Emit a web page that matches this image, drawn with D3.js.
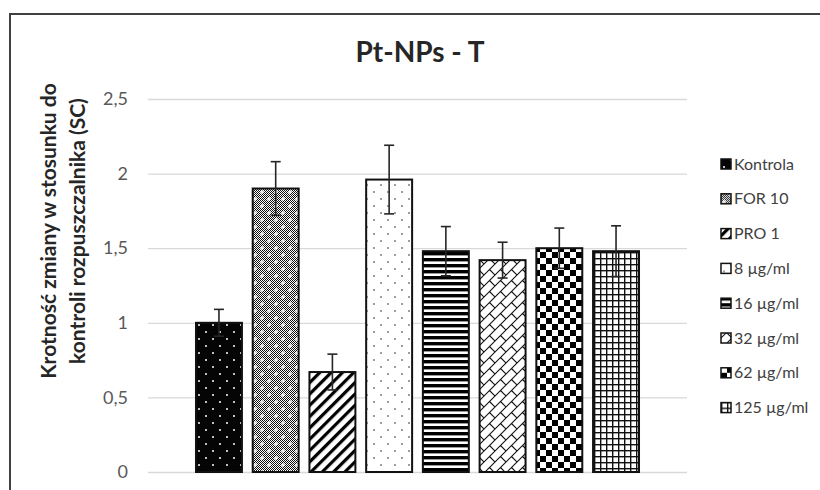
<!DOCTYPE html>
<html>
<head>
<meta charset="utf-8">
<script src="https://cdn.jsdelivr.net/npm/d3@7"></script>
<style>
  body { margin: 0; background: #fff; }
  text { font-family: Lato, "Open Sans", sans-serif; }
</style>
</head>
<body>
<svg id="canvas"></svg>
<script>
// ########## Data ##########

categories = ["Kontrola", "FOR 10", "PRO 1", "8 µg/ml", "16 µg/ml", "32 µg/ml", "62 µg/ml", "125 µg/ml"];
values = [1.0, 1.9, 0.67, 1.96, 1.48, 1.42, 1.5, 1.48];
errors = [0.09, 0.18, 0.12, 0.23, 0.165, 0.12, 0.135, 0.17];
patternIds = ["pKontrola", "pFor", "pPro", "p8", "p16", "p32", "p62", "p125"];
yTicks = [0, 0.5, 1, 1.5, 2, 2.5];
chartTitle = "Pt-NPs - T";
yTitle = ["Krotność zmiany w stosunku do", "kontroli rozpuszczalnika (SC)"];

w = 820;
h = 490;

svg = d3.select("#canvas")
    .attr("width", w)
    .attr("height", h);

// ########## Patterns ##########
defs = svg.append("defs");

function pat(id, size, bg) {
    var p = defs.append("pattern")
        .attr("id", id)
        .attr("patternUnits", "userSpaceOnUse")
        .attr("width", size)
        .attr("height", size);
    p.append("rect").attr("width", size).attr("height", size).attr("fill", bg);
    return p;
}

// kontrola: black with white dots
p = pat("pKontrola", 14, "#050505");
p.append("circle").attr("cx", 3).attr("cy", 3).attr("r", 1).attr("fill", "#fff");
p.append("circle").attr("cx", 10).attr("cy", 10).attr("r", 1).attr("fill", "#fff");

// fine dither used by FOR 10
p = pat("pDither", 2, "#fff");
p.append("rect").attr("width", 1).attr("height", 1).attr("fill", "#111");
p.append("rect").attr("x", 1).attr("y", 1).attr("width", 1).attr("height", 1).attr("fill", "#111");

p = defs.append("pattern")
    .attr("id", "pFor")
    .attr("patternUnits", "userSpaceOnUse")
    .attr("width", 14)
    .attr("height", 14);
p.append("rect").attr("width", 14).attr("height", 14).attr("fill", "url(#pDither)");
[[3, 3], [10, 10]].forEach(function (c) {
    p.append("rect").attr("x", c[0] - 2).attr("y", c[1] - 0.6).attr("width", 4).attr("height", 1.2).attr("fill", "#fff");
    p.append("rect").attr("x", c[0] - 0.6).attr("y", c[1] - 2).attr("width", 1.2).attr("height", 4).attr("fill", "#fff");
});

// PRO 1: wide diagonal stripes
p = pat("pPro", 8, "#fff").attr("patternTransform", "rotate(-45)");
p.append("rect").attr("width", 8).attr("height", 3.2).attr("fill", "#000");

// 8 ug/ml: sparse black dots
p = pat("p8", 14, "#fff");
p.append("circle").attr("cx", 3).attr("cy", 3).attr("r", 0.8).attr("fill", "#222");
p.append("circle").attr("cx", 10).attr("cy", 10).attr("r", 0.8).attr("fill", "#222");

// 16 ug/ml: horizontal stripes
p = pat("p16", 6, "#fff");
p.append("rect").attr("width", 6).attr("height", 3.4).attr("fill", "#000");

// 32 ug/ml: diagonal brick
p = pat("p32", 11, "#fff");
p.append("path")
    .attr("d", "M0,11 L11,0 M5.5,5.5 L11,11 M-1,1 L1,-1 M10,12 L12,10")
    .attr("stroke", "#111")
    .attr("stroke-width", 1.1)
    .attr("fill", "none");

// 62 ug/ml: checkerboard
p = pat("p62", 12, "#fff");
p.append("rect").attr("width", 6).attr("height", 6).attr("fill", "#000");
p.append("rect").attr("x", 6).attr("y", 6).attr("width", 6).attr("height", 6).attr("fill", "#000");

// 125 ug/ml: grid
p = pat("p125", 6, "#fff");
p.append("rect").attr("width", 6).attr("height", 1.4).attr("fill", "#111");
p.append("rect").attr("width", 1.4).attr("height", 6).attr("fill", "#111");

// ########## Border ##########
svg.append("rect")
    .attr("x", 10)
    .attr("y", 14)
    .attr("width", 900)
    .attr("height", 600)
    .attr("fill", "#fff")
    .attr("stroke", "#404040")
    .attr("stroke-width", 2);

// ########## Scales ##########
x = d3.scaleBand()
    .domain(categories)
    .range([190.6, 644.4])
    .paddingInner(0.19)
    .paddingOuter(0.095);

y = d3.scaleLinear()
    .domain([0, 2.5])
    .range([472, 99]);

fmt = function (d) { return String(d).replace(".", ","); };

// ########## Grid + Axis ##########
yAxis = svg.append("g")
    .attr("transform", "translate(148,0)")
    .call(d3.axisLeft(y).tickValues(yTicks).tickSize(-539).tickPadding(20).tickFormat(fmt));

yAxis.select(".domain").remove();
yAxis.selectAll(".tick line")
    .attr("stroke", "#d9d9d9")
    .attr("stroke-width", 1.3);
yAxis.selectAll(".tick text")
    .attr("fill", "#595959")
    .style("font-size", "18px")
    .style("font-family", "Lato, 'Open Sans', sans-serif");

// ########## Bars ##########
bars = svg.append("g")
    .selectAll("rect")
    .data(values)
    .enter()
    .append("rect")
    .attr("x", function (d, i) { return x(categories[i]); })
    .attr("y", function (d) { return y(d); })
    .attr("width", x.bandwidth())
    .attr("height", function (d) { return y(0) - y(d); })
    .attr("fill", function (d, i) { return "url(#" + patternIds[i] + ")"; })
    .attr("stroke", "#111")
    .attr("stroke-width", 2);

// ########## Error bars ##########
errG = svg.append("g")
    .attr("stroke", "#262626")
    .attr("stroke-width", 1.6);

values.forEach(function (v, i) {
    var cx = x(categories[i]) + x.bandwidth() / 2;
    errG.append("line")
        .attr("x1", cx).attr("x2", cx)
        .attr("y1", y(v + errors[i])).attr("y2", y(v - errors[i]));
    errG.append("line")
        .attr("x1", cx - 5).attr("x2", cx + 5)
        .attr("y1", y(v + errors[i])).attr("y2", y(v + errors[i]));
    errG.append("line")
        .attr("x1", cx - 5).attr("x2", cx + 5)
        .attr("y1", y(v - errors[i])).attr("y2", y(v - errors[i]));
});

// ########## Title ##########
svg.append("text")
    .attr("x", 420)
    .attr("y", 62)
    .attr("text-anchor", "middle")
    .attr("fill", "#262626")
    .style("font-size", "28px")
    .style("font-weight", "bold")
    .text(chartTitle);

// ########## Y title ##########
yt = svg.append("text")
    .attr("transform", "translate(0,231) rotate(-90)")
    .attr("text-anchor", "middle")
    .attr("fill", "#262626")
    .style("font-size", "21px")
    .style("font-weight", "bold");

yt.selectAll("tspan")
    .data(yTitle)
    .enter()
    .append("tspan")
    .attr("x", 0)
    .attr("y", function (d, i) { return 56 + i * 29; })
    .text(function (d) { return d; });

// ########## Legend ##########
legend = svg.append("g")
    .selectAll("g")
    .data(categories)
    .enter()
    .append("g")
    .attr("transform", function (d, i) { return "translate(721," + (164 + i * 34.8) + ")"; });

legend.append("rect")
    .attr("x", 0)
    .attr("y", -5)
    .attr("width", 10)
    .attr("height", 10)
    .attr("fill", function (d, i) { return "url(#" + patternIds[i] + ")"; })
    .attr("stroke", "#111")
    .attr("stroke-width", 1.5);

legend.append("text")
    .attr("x", 13)
    .attr("dy", "0.35em")
    .attr("fill", "#404040")
    .style("font-size", "16px")
    .text(function (d) { return d; });
</script>
</body>
</html>
